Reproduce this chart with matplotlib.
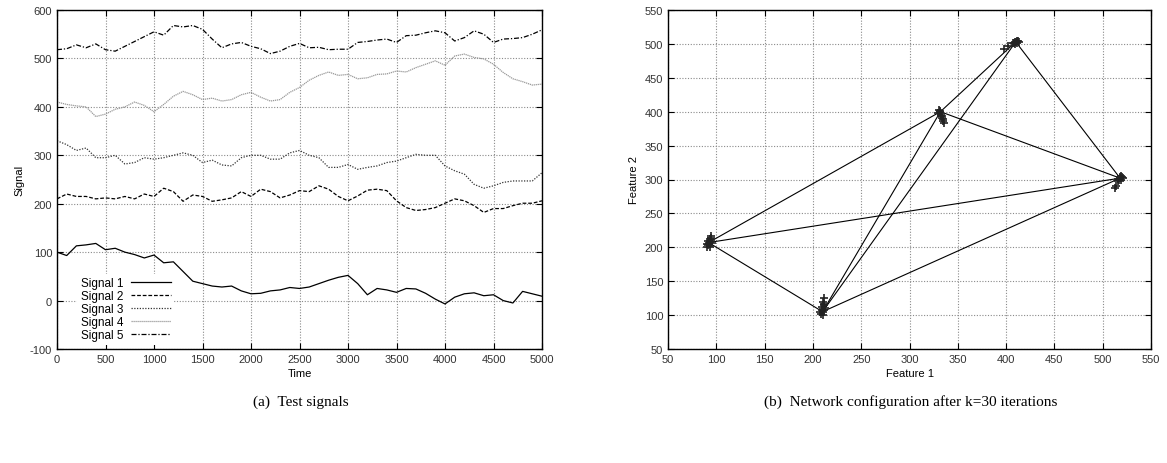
import matplotlib
matplotlib.use("Agg")
import matplotlib.pyplot as plt

# ---------------- data: (a) test signals ----------------
time = [0, 100, 200, 300, 400, 500, 600, 700, 800, 900, 1000, 1100, 1200, 1300, 1400,
        1500, 1600, 1700, 1800, 1900, 2000, 2100, 2200, 2300, 2400, 2500, 2600, 2700,
        2800, 2900, 3000, 3100, 3200, 3300, 3400, 3500, 3600, 3700, 3800, 3900, 4000,
        4100, 4200, 4300, 4400, 4500, 4600, 4700, 4800, 4900, 5000]

signal1 = [100, 93, 113, 115, 118, 105, 108, 100, 95, 88, 94, 78, 80, 60, 40,
           35, 30, 28, 30, 20, 14, 15, 20, 22, 27, 25, 28, 35, 42, 48, 52, 35, 12,
           25, 22, 17, 25, 24, 15, 3, -7, 7, 14, 16, 10, 12, 0, -5, 19, 14, 9]
signal2 = [210, 220, 215, 215, 210, 212, 210, 215, 210, 220, 215, 232, 225, 205, 218,
           215, 205, 208, 212, 225, 215, 230, 225, 212, 218, 227, 225, 237, 230, 215,
           206, 216, 228, 230, 227, 206, 192, 186, 188, 192, 201, 210, 206, 196, 182,
           190, 190, 196, 201, 201, 206]
signal3 = [330, 322, 310, 315, 295, 295, 300, 282, 285, 295, 292, 295, 300, 305, 300,
           285, 290, 280, 278, 295, 300, 300, 292, 292, 305, 310, 300, 295, 275, 275,
           281, 271, 275, 278, 285, 288, 295, 302, 300, 300, 278, 268, 261, 240, 232,
           237, 244, 247, 247, 247, 264]
signal4 = [410, 405, 402, 400, 380, 385, 395, 400, 410, 403, 390, 405, 422, 432, 425,
           415, 418, 412, 415, 425, 430, 420, 412, 415, 430, 440, 455, 465, 472, 465,
           467, 458, 460, 467, 468, 474, 472, 481, 488, 495, 486, 505, 509, 502, 499,
           488, 471, 458, 452, 445, 447]
signal5 = [518, 520, 528, 522, 530, 518, 515, 525, 535, 545, 555, 548, 568, 565, 568,
           560, 540, 522, 530, 533, 525, 520, 510, 515, 525, 531, 522, 523, 518, 519,
           519, 533, 535, 538, 540, 533, 547, 548, 553, 557, 553, 536, 543, 557, 550,
           533, 540, 541, 543, 550, 559]

signal_labels = ["Signal 1", "Signal 2", "Signal 3", "Signal 4", "Signal 5"]
time_ticks = [0, 500, 1000, 1500, 2000, 2500, 3000, 3500, 4000, 4500, 5000]
signal_ticks = [-100, 0, 100, 200, 300, 400, 500, 600]

# ---------------- data: (b) network configuration ----------------
node_x = [92, 210, 332, 410, 518]
node_y = [207, 105, 400, 503, 302]
edges = [(0, 2), (0, 4), (0, 1), (1, 2), (1, 3), (1, 4), (2, 3), (2, 4), (3, 4)]

cluster_x = [92, 93, 94, 91, 90, 95, 92, 93, 96, 91, 94, 90, 93,
             210, 208, 211, 209, 212, 210, 211, 207, 213, 210, 209, 212,
             332, 331, 333, 334, 335, 336, 333, 330, 335, 332, 334,
             410, 411, 408, 412, 409, 413, 402, 398, 407, 411, 409,
             518, 519, 517, 520, 516, 514, 513, 519, 521, 518, 516]
cluster_y = [207, 212, 216, 203, 201, 209, 205, 200, 206, 210, 213, 205, 208,
             105, 102, 108, 112, 115, 120, 125, 104, 110, 100, 107, 117,
             400, 403, 396, 391, 387, 383, 393, 398, 389, 401, 394,
             503, 502, 501, 504, 500, 503, 497, 493, 502, 505, 503,
             302, 305, 300, 303, 298, 290, 287, 299, 302, 304, 301]
feature_ticks = [50, 100, 150, 200, 250, 300, 350, 400, 450, 500, 550]

# ---------------- figure ----------------
plt.rcParams['font.family'] = ['Liberation Sans', 'DejaVu Sans']
plt.rcParams['axes.unicode_minus'] = False
fig = plt.figure(figsize=(11.67, 4.64), dpi=100)

ax1 = fig.add_axes([57 / 1167, 1 - 350 / 464, (542 - 57) / 1167, (350 - 11) / 464])
ax2 = fig.add_axes([668 / 1167, 1 - 350 / 464, (1151 - 668) / 1167, (350 - 11) / 464])

grid_kw = dict(color='#8a8a8a', linestyle=(0, (1, 1.5)), linewidth=0.8)

styles = [
    dict(color='black', linestyle='-'),
    dict(color='black', linestyle=(0, (3, 1.5))),
    dict(color='#333333', linestyle=(0, (1, 1.2))),
    dict(color='#999999', linestyle=(0, (1, 0.6))),
    dict(color='black', linestyle=(0, (4, 1.5, 1, 1.5))),
]
series = [signal1, signal2, signal3, signal4, signal5]
for vals, lab, st in zip(series, signal_labels, styles):
    ax1.plot(time, vals, label=lab, linewidth=0.9, **st)

ax1.set_xlim(0, 5000)
ax1.set_ylim(-100, 600)
ax1.set_xticks(time_ticks)
ax1.set_yticks(signal_ticks)
ax1.set_xlabel("Time", fontsize=8, labelpad=3)
ax1.set_ylabel("Signal", fontsize=8, labelpad=4)
ax1.grid(True, **grid_kw)
leg = ax1.legend(loc='lower left', bbox_to_anchor=(0.03, -0.005), fontsize=8.5,
                 markerfirst=False, handlelength=3.4, labelspacing=0.08,
                 borderpad=0.3, handletextpad=0.6, frameon=True, fancybox=False)
leg.get_frame().set_edgecolor('none')
leg.get_frame().set_facecolor('white')
leg.get_frame().set_alpha(1)

for (i, j) in edges:
    ax2.plot([node_x[i], node_x[j]], [node_y[i], node_y[j]], color='black', linewidth=0.8)
ax2.plot(cluster_x, cluster_y, linestyle='none', marker='+', markersize=6,
         markeredgewidth=1.2, color='#222222')

ax2.set_xlim(50, 550)
ax2.set_ylim(50, 550)
ax2.set_xticks(feature_ticks)
ax2.set_yticks(feature_ticks)
ax2.set_xlabel("Feature 1", fontsize=8, labelpad=3)
ax2.set_ylabel("Feature 2", fontsize=8, labelpad=4)
ax2.grid(True, **grid_kw)

for ax in (ax1, ax2):
    ax.set_axisbelow(True)
    ax.tick_params(direction='in', length=4, width=0.8, labelsize=8,
                   top=True, right=True, colors='black', labelcolor='#333333')
    for sp in ax.spines.values():
        sp.set_linewidth(1.0)
        sp.set_color('black')

fig.text(0.2575, 1 - 402 / 464, "(a)  Test signals", ha='center', va='center',
         fontsize=11, family=['Liberation Serif', 'DejaVu Serif'])
fig.text(0.78, 1 - 402 / 464, "(b)  Network configuration after k=30 iterations",
         ha='center', va='center', fontsize=11, family=['Liberation Serif', 'DejaVu Serif'])

fig.savefig("out.png", dpi=100)
